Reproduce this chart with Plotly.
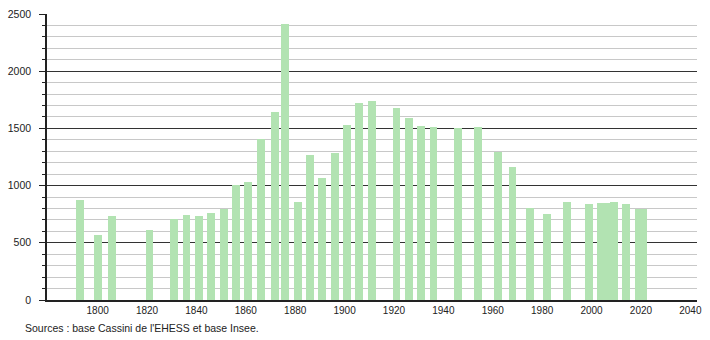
import plotly.graph_objects as go

years = [1793, 1800, 1806, 1821, 1831, 1836, 1841, 1846, 1851, 1856,
         1861, 1866, 1872, 1876, 1881, 1886, 1891, 1896, 1901, 1906,
         1911, 1921, 1926, 1931, 1936, 1946, 1954, 1962, 1968, 1975,
         1982, 1990, 1999, 2004, 2006, 2009, 2014, 2019, 2021]
population = [870, 569, 733, 612, 707, 741, 733, 761, 793, 1009,
              1034, 1405, 1647, 2414, 853, 1267, 1069, 1287, 1526, 1724,
              1741, 1681, 1595, 1517, 1509, 1500, 1509, 1290, 1167, 804,
              753, 853, 836, 845, 849, 853, 836, 795, 793]
x_ticks = [1800, 1820, 1840, 1860, 1880, 1900, 1920, 1940, 1960, 1980, 2000, 2020, 2040]
y_ticks = [0, 500, 1000, 1500, 2000, 2500]
source_text = "Sources : base Cassini de l'EHESS et base Insee."

fig = go.Figure()
fig.add_trace(go.Bar(
    x=years, y=population, width=3.2,
    marker=dict(color="#b2e3b2", line=dict(width=0)),
    hoverinfo="x+y",
))

fig.update_layout(
    width=710, height=340,
    margin=dict(l=44, r=8, t=10, b=40),
    paper_bgcolor="white", plot_bgcolor="white",
    showlegend=False,
    font=dict(family="Liberation Sans, Arial, sans-serif", color="#222", size=10),
    xaxis=dict(
        range=[1779.5, 2042.7],
        tickvals=x_ticks, ticktext=[str(v) for v in x_ticks],
        showgrid=False, zeroline=False,
        showline=True, linecolor="#222", linewidth=1.5,
        ticks="", tickfont=dict(size=10),
    ),
    yaxis=dict(
        range=[0, 2500],
        tickvals=y_ticks, ticktext=[str(v) for v in y_ticks],
        showgrid=True, gridcolor="#333", gridwidth=1,
        zeroline=False,
        showline=True, linecolor="#222", linewidth=1.5,
        ticks="outside", ticklen=6, tickcolor="#222", tickwidth=1,
        ticklabelstandoff=6,
        tickfont=dict(size=10.5),
        minor=dict(dtick=100, showgrid=True, gridcolor="#c8c8c8", gridwidth=1,
                   ticks="outside", ticklen=3, tickcolor="#222", tickwidth=1),
    ),
    bargap=0,
)

fig.add_annotation(
    text=source_text, xref="paper", yref="paper",
    x=-44 / 658 + 20 / 658, y=-28 / 290,
    xanchor="left", yanchor="middle", showarrow=False,
    font=dict(size=10.5, color="#222"),
)

fig.write_html("out.html")
